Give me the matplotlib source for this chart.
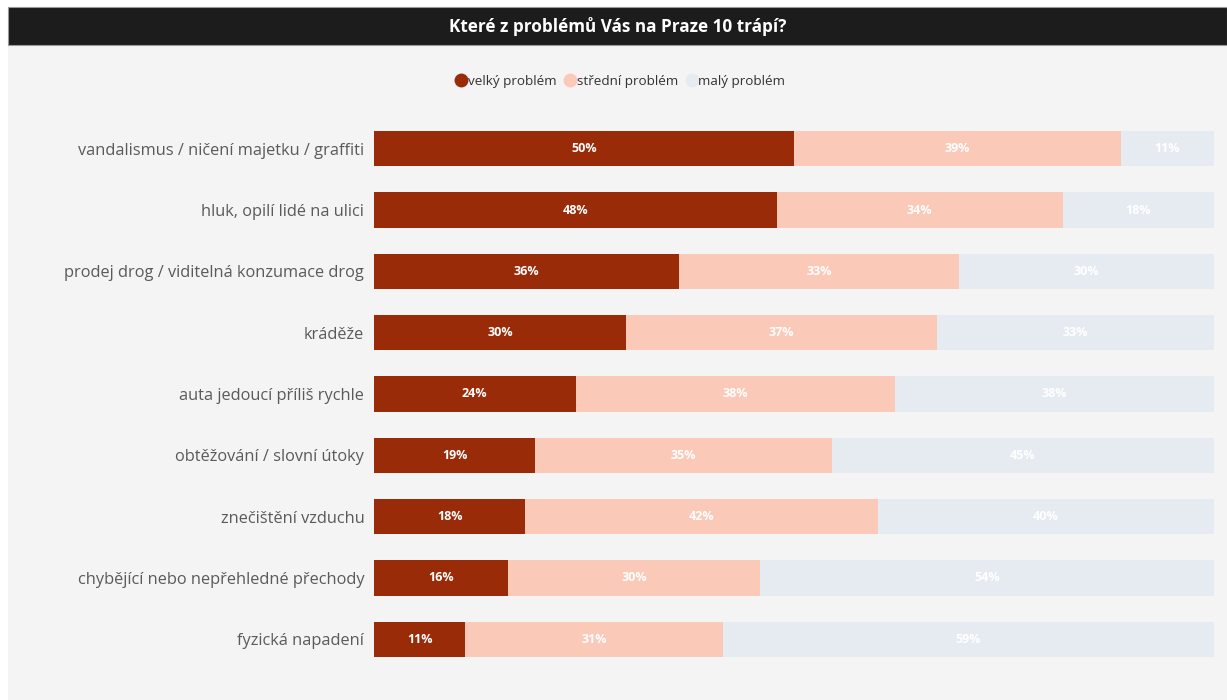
import matplotlib
matplotlib.use("Agg")
import matplotlib.pyplot as plt
from matplotlib.patches import Rectangle
from matplotlib.lines import Line2D
import numpy as np

title = "Které z problémů Vás na Praze 10 trápí?"
categories = [
    "vandalismus / ničení majetku / graffiti",
    "hluk, opilí lidé na ulici",
    "prodej drog / viditelná konzumace drog",
    "kráděže",
    "auta jedoucí příliš rychle",
    "obtěžování / slovní útoky",
    "znečištění vzduchu",
    "chybějící nebo nepřehledné přechody",
    "fyzická napadení",
]
series_names = ["velký problém", "střední problém", "malý problém"]
velky = [50, 48, 36, 30, 24, 19, 18, 16, 11]
stredni = [39, 34, 33, 37, 38, 35, 42, 30, 31]
maly = [11, 18, 30, 33, 38, 45, 40, 54, 59]
colors = ["#992B09", "#FBC9B8", "#E6EBF2"]

W, H = 1227, 700
fig = plt.figure(figsize=(W / 100, H / 100), dpi=100)
fig.patch.set_facecolor("white")
font = "Open Sans"

# gray panel background
fig.add_artist(Rectangle((8 / W, 0), 1 - 8 / W, 1 - 7 / H, transform=fig.transFigure,
                         facecolor="#F4F4F4", edgecolor="none", zorder=0))
# title bar
fig.add_artist(Rectangle((8 / W, 1 - 45 / H), 1 - 8 / W, 38 / H, transform=fig.transFigure,
                         facecolor="#1C1C1C", edgecolor="#9a9a9a", linewidth=0.8, zorder=1))
fig.text((8 + W) / 2 / W, 1 - 27 / H, title, color="white", fontsize=12.3, fontweight="bold",
         ha="center", va="center", family=font, zorder=2)

left, right = 374 / W, 1213.7 / W
top_px, bot_px = 148.7 - 0.5 * 61.3, 639.2 + 0.5 * 61.3
ax = fig.add_axes([left, 1 - bot_px / H, right - left, (bot_px - top_px) / H])
ax.set_facecolor("none")

data = np.array([velky, stredni, maly], dtype=float)
totals = data.sum(axis=0)
fracs = data / totals
y = np.arange(len(categories))
lefts = np.zeros(len(categories))
bar_h = 35.3 / 61.3
for i, (name, col) in enumerate(zip(series_names, colors)):
    ax.barh(y, fracs[i], left=lefts, height=bar_h, color=col, edgecolor="none", label=name)
    for j in range(len(categories)):
        ax.text(lefts[j] + fracs[i][j] / 2, y[j], f"{int(data[i][j])}%", ha="center", va="center",
                color="white", fontsize=9, fontweight="bold", family=font)
    lefts += fracs[i]

ax.set_xlim(0, 1)
ax.set_ylim(len(categories) - 0.5, -0.5)
ax.set_yticks(y)
ax.set_yticklabels(categories, fontsize=11.8, color="#5a5a5a", family=font)
ax.tick_params(axis="y", length=0, pad=7)
ax.set_xticks([])
for s in ax.spines.values():
    s.set_visible(False)

handles = [Line2D([0], [0], marker="o", linestyle="none", markersize=10,
                  markerfacecolor=c, markeredgecolor="none") for c in colors]
fig.legend(handles, series_names, loc="center", bbox_to_anchor=(620 / W, 1 - 81 / H),
           ncol=3, frameon=False, handletextpad=0.0, columnspacing=0.5,
           prop={"family": font, "size": 9.7}, labelcolor="#333333", handlelength=1.0)

fig.savefig("out.png", dpi=100, facecolor=fig.get_facecolor())
